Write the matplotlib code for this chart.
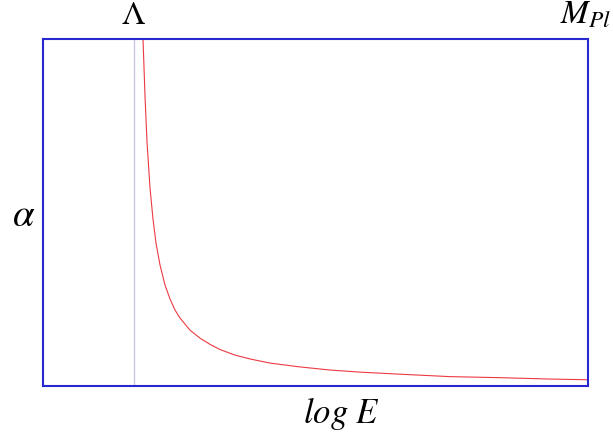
import matplotlib
matplotlib.use("Agg")
import matplotlib.pyplot as plt

plt.rcParams['mathtext.fontset'] = 'stix'
plt.rcParams['font.family'] = ['Liberation Serif', 'DejaVu Serif']

# Curve (log E and alpha in arbitrary units)
log_e = [1.101, 1.123, 1.145, 1.178, 1.211, 1.244, 1.288, 1.343, 1.398, 1.453,
         1.508, 1.618, 1.728, 1.839, 1.949, 2.114, 2.279, 2.499, 2.829, 3.160,
         3.490, 3.930, 4.481, 5.031, 5.582, 6.0]
alpha = [1.000, 0.836, 0.703, 0.571, 0.481, 0.412, 0.349, 0.291, 0.251, 0.219,
         0.196, 0.161, 0.138, 0.120, 0.105, 0.089, 0.078, 0.066, 0.055, 0.046,
         0.040, 0.034, 0.027, 0.024, 0.020, 0.018]

top_ticks = [1.0, 5.97]
top_labels = [r'$\Lambda$', r'$M_{Pl}$']
lambda_pos = 1.0

fig = plt.figure(figsize=(6.13, 4.40), dpi=100)
ax = fig.add_axes([43/613, 1-386/440, 545/613, 347/440])
ax.set_xlim(0, 6)
ax.set_ylim(0, 1)

ax.axvline(lambda_pos, color='#c4c4e4', lw=0.9)
ax.plot(log_e, alpha, color='#ec3a42', lw=0.8, solid_joinstyle='round')

for s in ax.spines.values():
    s.set_color('#2828d0')
    s.set_linewidth(1.5)
ax.set_xticks([])
ax.set_yticks([])

axt = ax.twiny()
axt.set_xlim(0, 6)
axt.set_xticks(top_ticks)
axt.set_xticklabels(top_labels, fontsize=24)
axt.tick_params(axis='x', length=0, pad=6)
for s in axt.spines.values():
    s.set_visible(False)

fig.text(24/613, 1-216/440, r'$\alpha$', fontsize=28, ha='center', va='center')
fig.text(341/613, 1-413/440, r'$log\ E$', fontsize=25, ha='center', va='center')

fig.savefig('out.png', dpi=100)
